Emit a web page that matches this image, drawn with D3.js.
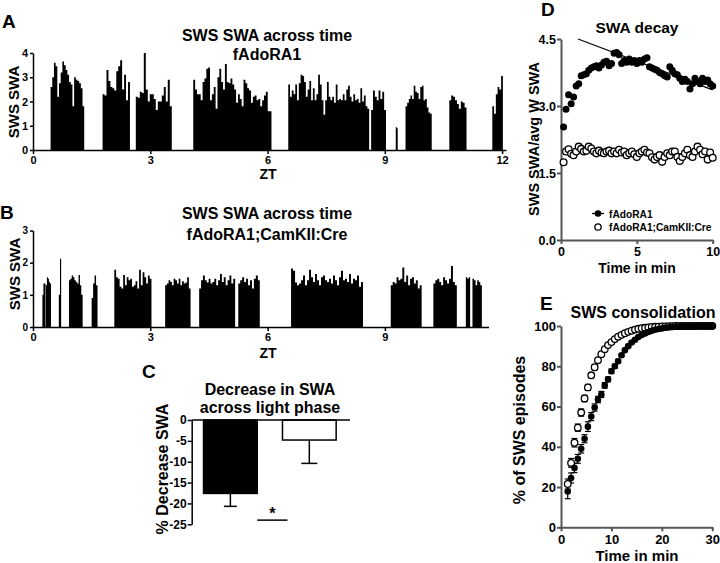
<!DOCTYPE html>
<html><head><meta charset="utf-8">
<script src="https://cdn.jsdelivr.net/npm/d3@7"></script>
<style>
body{margin:0;background:#fff;}
svg{font-family:"Liberation Sans",Arial,sans-serif;}
</style></head><body>
<svg id="c" width="720" height="563"></svg>
<script>
// ---------- DATA ----------
const ztTicks = [0, 3, 6, 9, 12];
const swaTicksA = [0, 1, 2, 3, 4];
const swaTicksB = [0, 1, 2, 3];

// Panel A: SWS episodes (start ZT, end ZT, per-epoch SWA)
const episodesA = [
  {s:0.45, e:1.31, v:[2.6,3.0,3.6,3.45,2.2,2.75,3.2,3.65,3.5,3.3,3.1,2.8,2.7,1.8,3.0,2.9,2.85,2.75,2.55,1.8]},
  {s:1.78, e:2.48, v:[2.3,2.25,3.3,2.85,2.6,2.55,2.45,3.25,3.45,3.7,2.5,3.1,2.05,2.8]},
  {s:2.63, e:3.55, v:[2.2,2.15,2.4,2.35,4.0,2.5,2.0,2.3,2.3,2.1,1.65,2.0,2.0,2.25,2.6,2.0,2.9,1.8]},
  {s:4.10, e:6.10, v:[2.9,2.5,2.3,2.3,2.05,2.8,2.95,3.35,3.4,2.05,2.3,2.6,1.7,3.0,3.35,2.8,2.5,3.55,2.8,2.75,2.95,2.7,2.5,1.95,2.3,2.1,1.8,2.9,2.75,2.55,2.45,1.95,2.2,2.25,2.05,2.1,1.8,2.05,2.25,2.4,1.6,1.6]},
  {s:6.53, e:8.60, v:[2.7,2.2,2.45,2.3,2.7,2.05,2.75,3.1,3.05,2.8,2.2,2.5,2.85,2.05,2.55,2.05,2.3,3.1,2.7,2.05,1.45,2.05,2.8,2.2,2.05,2.2,1.95,2.7,2.05,2.1,2.05,2.3,2.05,2.5,2.65,2.2,2.0,2.3,2.05,2.1,1.95,2.55,2.0,2.25,1.8,1.7]},
  {s:8.65, e:9.03, v:[1.65,2.45,2.2,2.05,2.45,2.1,2.4,1.65]},
  {s:9.28, e:9.33, v:[0.95,0.9]},
  {s:9.53, e:10.20, v:[1.8,1.95,2.1,2.25,2.1,2.65,2.4,2.35,2.1,2.6,2.65,2.05,2.1,1.75,1.55,1.5]},
  {s:10.65, e:11.09, v:[2.05,2.25,2.2,2.05,1.9,1.7,2.0,1.95,1.75]},
  {s:11.75, e:12.02, v:[1.8,1.5,2.3,2.6,2.5,3.05]}
];

// Panel B: SWS episodes
const episodesB = [
  {s:0.24, e:0.32, v:[1.0,1.35,1.35]},
  {s:0.33, e:0.46, v:[1.3,1.55,1.5,1.4,1.35]},
  {s:0.66, e:0.72, v:[1.0,2.12]},
  {s:0.92, e:1.27, v:[1.45,1.5,1.6,1.55,1.45,1.4,1.35,1.62,1.3,1.0]},
  {s:1.50, e:1.65, v:[0.9,1.35,1.6,1.3]},
  {s:2.08, e:3.03, v:[1.78,1.55,1.5,1.25,1.2,1.62,1.3,1.55,1.45,1.5,1.25,1.3,1.42,1.2,1.78,1.3,1.7,1.55,1.35,1.6,1.5]},
  {s:3.38, e:4.03, v:[1.3,1.35,1.45,1.4,1.3,1.5,1.45,1.35,1.5,1.3,1.42,1.35,1.38,1.55,1.2]},
  {s:4.25, e:5.17, v:[1.2,1.45,1.6,1.45,1.38,1.5,1.35,1.4,1.5,1.3,1.45,1.65,1.4,1.55,1.3,1.45,1.6,1.35,1.5]},
  {s:5.25, e:5.80, v:[1.35,1.45,1.55,1.4,1.5,1.3,1.45,1.2,1.5,1.6,1.45]},
  {s:6.60, e:8.44, v:[1.82,1.75,1.38,1.3,1.35,1.45,1.6,1.3,1.45,1.78,1.55,1.4,1.65,1.45,1.3,1.55,1.6,1.45,1.4,1.5,1.35,1.6,1.45,1.3,1.55,1.75,1.45,1.5,1.4,1.65,1.35,1.5,1.45,1.6,1.25,1.4]},
  {s:9.15, e:9.94, v:[1.3,1.4,1.35,1.55,1.45,1.5,1.85,1.4,1.6,1.3,1.5,1.55,1.35,1.45,1.2,1.3]},
  {s:10.24, e:10.84, v:[1.35,1.45,1.5,1.4,1.3,1.55,1.45,1.35,1.5,1.9,1.4,1.3]},
  {s:11.07, e:11.18, v:[1.55,1.5,1.55]},
  {s:11.24, e:11.48, v:[1.5,1.45,1.3,1.45,1.4,1.3]}
];

// Panel C
const groupsC = ["fAdoRA1", "fAdoRA1;CamKII:Cre"];
const decreaseMean = [-17.6, -4.8];
const decreaseErr = [3.1, 5.6];
const decreaseTicks = [0, -5, -10, -15, -20, -25];

// Panel D: SWA decay (10-s bins over 10 min)
const timeD = [0.17,0.33,0.5,0.67,0.83,1,1.17,1.33,1.5,1.67,1.83,2,2.17,2.33,2.5,2.67,2.83,3,3.17,3.33,3.5,3.67,3.83,4,4.17,4.33,4.5,4.67,4.83,5,5.17,5.33,5.5,5.67,5.83,6,6.17,6.33,6.5,6.67,6.83,7,7.17,7.33,7.5,7.67,7.83,8,8.17,8.33,8.5,8.67,8.83,9,9.17,9.33,9.5,9.67,9.83,10];
const decayFlox = [2.53,2.93,3.25,3.05,3.2,3.45,3.5,3.68,3.7,3.72,3.8,3.85,3.88,3.9,3.85,3.92,3.98,4.0,3.9,3.95,4.18,4.2,4.15,3.95,4.02,3.98,4.05,3.98,4.02,3.95,4.02,3.98,4.05,4.08,3.88,3.85,3.82,3.8,3.75,3.72,3.68,3.65,3.88,3.8,3.72,3.7,3.62,3.55,3.6,3.55,3.38,3.5,3.62,3.55,3.5,3.62,3.55,3.58,3.5,3.45];
const decayCre = [1.74,1.98,2.03,1.93,1.9,1.98,2.09,2.04,1.98,2.0,2.09,2.05,1.98,1.94,2.0,1.96,1.94,1.98,2.0,1.94,1.98,1.94,2.02,1.96,1.98,1.9,1.94,1.98,1.92,1.86,1.94,1.98,2.02,1.96,1.94,1.85,1.8,1.86,1.9,1.75,1.86,1.94,1.9,1.98,1.98,1.86,1.77,1.86,1.94,2.02,1.9,1.86,1.98,2.09,2.02,1.92,1.98,1.8,1.96,1.84];
const decayFit = [{t:1.12, v:4.5}, {t:10, v:3.36}];
const ticksDy = [0, 1.5, 3.0, 4.5];
const ticksDx = [0, 5, 10];

// Panel E: cumulative SWS episode durations
const timeE = [1.33,2,2.67,3.33,4,4.67,5.33,6,6.67,7.33,8,8.67,9.33,10,10.67,11.33,12,12.67,13.33,14,14.67,15.33,16,16.67,17.33,18,18.67,19.33,20,20.67,21.33,22,22.67,23.33,24,24.67,25.33,26,26.67,27.33,28,28.67,29.33,30];
const cumFlox = [17.8,24.5,29.5,34,39,44,50,55,59.5,63.5,66,70.5,73.5,77.5,80,82.5,85.5,88,90,91.8,93.2,94.5,95.5,96.3,97,97.6,98.1,98.5,98.8,99.1,99.3,99.5,99.6,99.7,99.8,99.8,99.9,99.9,99.9,100,100,100,100,100];
const cumCre = [21.5,32,42,49.5,57,64,69.5,75.5,79.5,83,86,88.5,90.5,92,93.5,94.7,95.6,96.4,97.1,97.7,98.2,98.6,98.9,99.1,99.3,99.5,99.6,99.7,99.8,99.8,99.9,99.9,100,100,100,100,100,100,100,100,100,100,100,100];
const errFlox = [3.6,2.5,2.3,2.2,2.1,2.0,2.4,2.0,1.8,1.6,1.5,1.4,1.2,1.1,1.0,0.9,0.8,0.7,0.6,0.5,0.5,0.4,0.4,0.3,0.3,0.3,0.2,0.2,0.2,0.2,0.1,0.1,0.1,0.1,0.1,0.1,0.1,0.1,0.1,0,0,0,0,0];
const errCre = [2.5,2.2,2.1,1.8,1.8,1.6,1.5,1.3,1.2,1.0,0.9,0.8,0.7,0.6,0.5,0.5,0.4,0.4,0.3,0.3,0.3,0.2,0.2,0.2,0.1,0.1,0.1,0.1,0.1,0.1,0,0,0,0,0,0,0,0,0,0,0,0,0,0];
const ticksEy = [0, 20, 40, 60, 80, 100];
const ticksEx = [0, 10, 20, 30];

// ---------- DRAW ----------
const svg = d3.select("#c");

function txt(x, y, s, size, opts = {}) {
  const t = svg.append("text").attr("x", x).attr("y", y).text(s)
    .attr("font-size", size).attr("font-weight", opts.weight || "bold")
    .attr("text-anchor", opts.anchor || "middle").attr("fill", "#000");
  if (opts.rotate) t.attr("transform", `rotate(-90,${x},${y})`);
  return t;
}
function styleAxis(g, size, color, width) {
  g.selectAll("path").attr("stroke", color).attr("stroke-width", width);
  g.selectAll("line").attr("stroke", color).attr("stroke-width", width);
  g.selectAll("text").attr("font-size", size).attr("font-weight", "bold")
    .attr("fill", "#000").attr("font-family", "Liberation Sans, Arial, sans-serif");
}

// Panel letters
txt(2, 28, "A", 19, {anchor: "start"});
txt(0, 219, "B", 19, {anchor: "start"});
txt(142, 378, "C", 19, {anchor: "start"});
txt(541, 16, "D", 19, {anchor: "start"});
txt(540, 310, "E", 19, {anchor: "start"});

// ----- Panels A & B: episode bars -----
function drawEpisodes(eps, x, y) {
  const g = svg.append("g");
  const area = d3.area().curve(d3.curveStepAfter)
    .x(d => x(d.t)).y0(y(0)).y1(d => y(d.v));
  eps.forEach(ep => {
    const w = (ep.e - ep.s) / ep.v.length;
    const pts = ep.v.map((d, i) => ({t: ep.s + i * w, v: d}));
    pts.push({t: ep.e, v: ep.v[ep.v.length - 1]});
    g.append("path").datum(pts).attr("d", area).attr("fill", "#000");
  });
}

const xA = d3.scaleLinear().domain([0, 12.1]).range([33, 506]);
const yA = d3.scaleLinear().domain([0, 4]).range([150, 53]);
drawEpisodes(episodesA, xA, yA);
const gAy = svg.append("g").attr("transform", "translate(33,0)")
  .call(d3.axisLeft(yA).tickValues(swaTicksA).tickFormat(d3.format("d")).tickSize(3).tickPadding(2).tickSizeOuter(0));
styleAxis(gAy, 11, "#000", 1.5);
const gAx = svg.append("g").attr("transform", "translate(0,150)")
  .call(d3.axisBottom(xA).tickValues(ztTicks).tickFormat(d3.format("d")).tickSize(4).tickPadding(2).tickSizeOuter(0));
styleAxis(gAx, 11, "#000", 1.5);
txt(267, 41, "SWS SWA across time", 16);
txt(267, 60, "fAdoRA1", 16);
txt(19, 102, "SWS SWA", 15, {rotate: true});
txt(268, 179, "ZT", 14);

const xB = d3.scaleLinear().domain([0, 11.65]).range([33, 488.5]);
const yB = d3.scaleLinear().domain([0, 3]).range([327, 230.5]);
drawEpisodes(episodesB, xB, yB);
const gBy = svg.append("g").attr("transform", "translate(33,0)")
  .call(d3.axisLeft(yB).tickValues(swaTicksB).tickFormat(d3.format("d")).tickSize(3).tickPadding(2).tickSizeOuter(0));
styleAxis(gBy, 10, "#000", 1.5);
const gBx = svg.append("g").attr("transform", "translate(0,327)")
  .call(d3.axisBottom(xB).tickValues(ztTicks.filter(d => d <= 11)).tickFormat(d3.format("d")).tickSize(4).tickPadding(2).tickSizeOuter(0));
styleAxis(gBx, 11, "#000", 1.5);
txt(267, 219, "SWS SWA across time", 16);
txt(267, 240, "fAdoRA1;CamKII:Cre", 16);
txt(20, 274, "SWS SWA", 15, {rotate: true});
txt(268, 358, "ZT", 14);

// ----- Panel C -----
const xC = d3.scaleBand().domain(groupsC).range([191.7, 348]).paddingInner(0.32).paddingOuter(0.15);
const yC = d3.scaleLinear().domain([-25, 0]).range([524.3, 420]);
const bw = xC.bandwidth();
groupsC.forEach((g, i) => {
  const cx = xC(g) + bw / 2;
  const capW = i === 0 ? 13 : 16;
  svg.append("line").attr("x1", cx).attr("x2", cx)
    .attr("y1", yC(decreaseMean[i])).attr("y2", yC(decreaseMean[i] - decreaseErr[i]))
    .attr("stroke", "#000").attr("stroke-width", 1.5);
  svg.append("line").attr("x1", cx - capW / 2).attr("x2", cx + capW / 2)
    .attr("y1", yC(decreaseMean[i] - decreaseErr[i])).attr("y2", yC(decreaseMean[i] - decreaseErr[i]))
    .attr("stroke", "#000").attr("stroke-width", 1.5);
});
svg.selectAll(".barC").data(decreaseMean).enter().append("rect")
  .attr("x", (d, i) => xC(groupsC[i]))
  .attr("width", bw)
  .attr("y", yC(0))
  .attr("height", d => yC(d) - yC(0))
  .attr("fill", (d, i) => i === 0 ? "#000" : "#fff")
  .attr("stroke", "#000").attr("stroke-width", 1.5);
const gCy = svg.append("g").attr("transform", "translate(191.7,0)")
  .call(d3.axisLeft(yC).tickValues(decreaseTicks).tickFormat(d3.format("d")).tickSize(4).tickPadding(1).tickSizeOuter(0));
styleAxis(gCy, 12, "#000", 1.5);
gCy.selectAll("text").text(d => d === 0 ? "0" : "-" + Math.abs(d));
svg.append("line").attr("x1", 191.7).attr("x2", 350).attr("y1", yC(0)).attr("y2", yC(0))
  .attr("stroke", "#000").attr("stroke-width", 1.5);
const sigY = yC(-24);
svg.append("line").attr("x1", xC(groupsC[0]) + bw).attr("x2", xC(groupsC[1]) + 5)
  .attr("y1", sigY).attr("y2", sigY).attr("stroke", "#000").attr("stroke-width", 1.5);
txt((xC(groupsC[0]) + bw + xC(groupsC[1]) + 5) / 2, sigY - 1, "*", 16);
txt(270, 395, "Decrease in SWA", 16);
txt(270, 413, "across light phase", 16);
txt(168, 469, "% Decrease SWA", 16, {rotate: true});

// ----- Panel D -----
const xD = d3.scaleLinear().domain([0, 10]).range([561, 712.7]);
const yD = d3.scaleLinear().domain([0, 4.5]).range([240, 39]);
const gDy = svg.append("g").attr("transform", "translate(561,0)")
  .call(d3.axisLeft(yD).tickValues(ticksDy).tickFormat(d3.format(".1f")).tickSize(4).tickPadding(1).tickSizeOuter(0));
styleAxis(gDy, 12.5, "#555", 2);
const gDx = svg.append("g").attr("transform", "translate(0,240)")
  .call(d3.axisBottom(xD).tickValues(ticksDx).tickFormat(d3.format("d")).tickSize(4).tickPadding(3).tickSizeOuter(0));
styleAxis(gDx, 12.5, "#555", 2);
svg.append("line")
  .attr("x1", xD(decayFit[0].t)).attr("y1", yD(decayFit[0].v))
  .attr("x2", xD(decayFit[1].t)).attr("y2", yD(decayFit[1].v))
  .attr("stroke", "#000").attr("stroke-width", 1.2);
svg.selectAll(".dCre").data(decayCre).enter().append("circle")
  .attr("cx", (d, i) => xD(timeD[i])).attr("cy", d => yD(d)).attr("r", 3.4)
  .attr("fill", "#fff").attr("stroke", "#000").attr("stroke-width", 1.3);
svg.selectAll(".dFlox").data(decayFlox).enter().append("circle")
  .attr("cx", (d, i) => xD(timeD[i])).attr("cy", d => yD(d)).attr("r", 3.5)
  .attr("fill", "#000");
txt(637, 33, "SWA decay", 15.5);
txt(539, 139, "SWS SWA/avg W SWA", 14.5, {rotate: true});
txt(637, 273, "Time in min", 14);
// legend
svg.append("line").attr("x1", 592).attr("x2", 604).attr("y1", 213.5).attr("y2", 213.5).attr("stroke", "#000").attr("stroke-width", 1.3);
svg.append("circle").attr("cx", 598).attr("cy", 213.5).attr("r", 3.3).attr("fill", "#000");
svg.append("circle").attr("cx", 598).attr("cy", 227).attr("r", 3.2).attr("fill", "#fff").attr("stroke", "#000").attr("stroke-width", 1.3);
txt(609, 217.5, "fAdoRA1", 10.2, {anchor: "start"});
txt(609, 231, "fAdoRA1;CamKII:Cre", 10.2, {anchor: "start"});

// ----- Panel E -----
const xE = d3.scaleLinear().domain([0, 30]).range([561, 712.3]);
const yE = d3.scaleLinear().domain([0, 100]).range([527.3, 326]);
const gEy = svg.append("g").attr("transform", "translate(561,0)")
  .call(d3.axisLeft(yE).tickValues(ticksEy).tickFormat(d3.format("d")).tickSize(4).tickPadding(1).tickSizeOuter(0));
styleAxis(gEy, 13, "#555", 2);
const gEx = svg.append("g").attr("transform", "translate(0,527.3)")
  .call(d3.axisBottom(xE).tickValues(ticksEx).tickFormat(d3.format("d")).tickSize(4).tickPadding(3).tickSizeOuter(0));
styleAxis(gEx, 13, "#555", 2);
function errBars(vals, errs) {
  vals.forEach((v, i) => {
    if (errs[i] < 0.5) return;
    const cx = xE(timeE[i]);
    svg.append("line").attr("x1", cx).attr("x2", cx).attr("y1", yE(v - errs[i])).attr("y2", yE(v + errs[i]))
      .attr("stroke", "#000").attr("stroke-width", 1.2);
    [v - errs[i], v + errs[i]].forEach(e => svg.append("line").attr("x1", cx - 3).attr("x2", cx + 3)
      .attr("y1", yE(e)).attr("y2", yE(e)).attr("stroke", "#000").attr("stroke-width", 1.2));
  });
}
errBars(cumFlox, errFlox);
errBars(cumCre, errCre);
svg.selectAll(".eCre").data(cumCre).enter().append("circle")
  .attr("cx", (d, i) => xE(timeE[i])).attr("cy", d => yE(d)).attr("r", 3.3)
  .attr("fill", "#fff").attr("stroke", "#000").attr("stroke-width", 1.3);
svg.selectAll(".eFlox").data(cumFlox).enter().append("circle")
  .attr("cx", (d, i) => xE(timeE[i])).attr("cy", d => yE(d)).attr("r", 3.3)
  .attr("fill", "#000");
txt(643, 318, "SWS consolidation", 16);
txt(525, 430, "% of SWS episodes", 16, {rotate: true});
txt(637, 561, "Time in min", 15);
</script>
</body></html>
